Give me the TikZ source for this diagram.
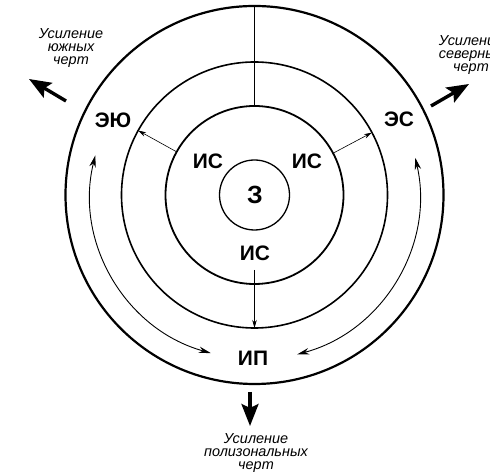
\documentclass[tikz,border=0pt]{standalone}
\usepackage{fontspec}
\setmainfont{Liberation Sans}
\usetikzlibrary{arrows.meta}
\begin{document}
\begin{tikzpicture}[x=1bp,y=1bp,
  ring/.style={circle, draw, inner sep=0pt, outer sep=0pt},
  lbl/.style={font=\fontsize{21}{24}\selectfont\bfseries, inner sep=0pt},
  note/.style={font=\fontsize{14.5}{13}\selectfont\itshape, align=center, inner sep=0pt},
  big/.style={line width=3.4bp, -{Stealth[length=22bp,width=17bp,inset=4bp]}},
  thinarrow/.style={line width=0.6bp, -{Stealth[length=8bp,width=4.5bp]}},
  curv/.style={line width=0.9bp, {Stealth[length=12bp,width=6.5bp]}-{Stealth[length=12bp,width=6.5bp]}}]
\useasboundingbox (0,0) rectangle (490,475);
\coordinate (C) at (254.5,280);
% rings
\node[ring, line width=2.2bp, minimum size=378bp] (outer) at (C) {};
\node[ring, line width=1.6bp, minimum size=266bp] (mid) at (C) {};
\node[ring, line width=1.8bp, minimum size=178bp] (isc) at (C) {};
\node[ring, line width=1.3bp, minimum size=70bp] (core) at (C) {};
% top divider
\draw[line width=1.3bp] (outer.north) -- (isc.north);
% labels
\node[lbl, font=\fontsize{25}{28}\selectfont\bfseries] (z) at (255,280) {З};
\node[lbl] (isl) at (208,314) {ИС};
\node[lbl] (isr) at (307,314) {ИС};
\node[lbl] (isb) at (255,222) {ИС};
\node[lbl] (eyu) at (113,355) {ЭЮ};
\node[lbl] (es) at (399,356) {ЭС};
\node[lbl] (ip) at (253,117) {ИП};
% notes
\node[note] (nl) at (71,427) {Усиление\\южных\\черт};
\node[note] (nr) at (471,420) {Усиление\\северных\\черт};
\node[note] (nb) at (256,22) {Усиление\\полизональных\\черт};
% small radial arrows
\draw[thinarrow] (isc.151) -- (mid.151);
\draw[thinarrow] (isc.28) -- (mid.28);
\coordinate (dtop) at (254.5,205);
\draw[thinarrow] (dtop) -- (mid.south);
% curved double arrows
\coordinate (la) at ([shift={(166:164)}]C);
\draw[curv] (la) arc[start angle=166, end angle=254.5, radius=164];
\coordinate (ra) at ([shift={(13:165)}]C);
\draw[curv] (ra) arc[start angle=13, end angle=-75, radius=165];
% big outward arrows
\coordinate (tlA) at (66,374);
\coordinate (tlB) at (29,396);
\draw[big] (tlA) -- (tlB);
\coordinate (trA) at (431,369);
\coordinate (trB) at (469,391);
\draw[big] (trA) -- (trB);
\coordinate (bA) at (250,83);
\coordinate (bB) at (250,49);
\draw[big] (bA) -- (bB);
\end{tikzpicture}
\end{document}
